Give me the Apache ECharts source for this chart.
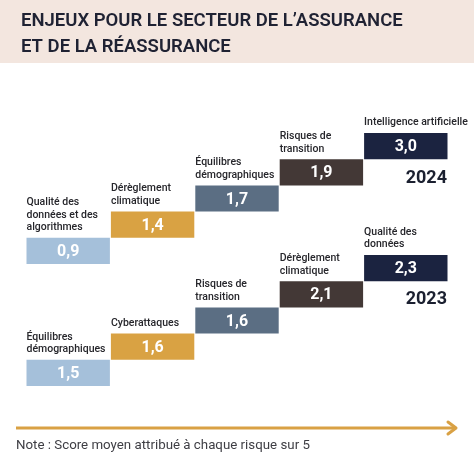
<!DOCTYPE html>
<html>
<head>
<meta charset="utf-8">
<script src="https://cdn.jsdelivr.net/npm/echarts@6/dist/echarts.min.js"></script>
<style>
html,body{margin:0;padding:0;background:#fff;}
#c{width:474px;height:474px;}
</style>
</head>
<body>
<div id="c"></div>
<script>
// ---- data ----
const years = ['2024', '2023'];
const names2024 = ['Qualité des\ndonnées et des\nalgorithmes', 'Dérèglement\nclimatique', 'Équilibres\ndémographiques', 'Risques de\ntransition', 'Intelligence artificielle'];
const values2024 = [0.9, 1.4, 1.7, 1.9, 3.0];
const names2023 = ['Équilibres\ndémographiques', 'Cyberattaques', 'Risques de\ntransition', 'Dérèglement\nclimatique', 'Qualité des\ndonnées'];
const values2023 = [1.5, 1.6, 1.6, 2.1, 2.3];
const steps = [0, 1, 2, 3, 4];
const titleText = 'ENJEUX POUR LE SECTEUR DE L\u2019ASSURANCE\nET DE LA RÉASSURANCE';
const noteText = 'Note : Score moyen attribué à chaque risque sur 5';

const colors = ['#a5c0da', '#d9a243', '#5b6e83', '#433836', '#1b2340'];
const FONT = 'Roboto, "Noto Sans", sans-serif';

function fmt(v){ return v.toFixed(1).replace('.', ','); }

function buildData(names, values){
  return values.map((v, i) => ({ value: [i, steps[i], v], name: names[i] }));
}

function renderItem(params, api){
  const i = api.value(0), s = api.value(1), v = api.value(2);
  const bottom = api.coord([i, s]);
  const top = api.coord([i, s + 1]);
  const bw = api.size([1, 0])[0];
  const x = bottom[0] - bw / 2;
  const y = top[1];
  const h = bottom[1] - top[1];
  const item = params.dataIndex;
  const name = params.seriesIndex === 0 ? names2024[item] : names2023[item];
  return {
    type: 'group',
    children: [
      { type: 'rect', shape: { x: x + 0.5, y: y, width: bw - 1, height: h }, style: { fill: colors[item] } },
      { type: 'text', style: { x: bottom[0], y: y + h / 2 + 1, text: fmt(v), fill: '#ffffff', font: 'bold 16px ' + FONT, textAlign: 'center', textVerticalAlign: 'middle' } },
      { type: 'text', style: { x: x + 0.5, y: y - 4, text: name, fill: '#26262b', font: '500 10.5px ' + FONT, lineHeight: 12.5, textAlign: 'left', textVerticalAlign: 'bottom' } }
    ]
  };
}

const chart = echarts.init(document.getElementById('c'), null, { renderer: 'canvas' });
chart.setOption({
  animation: false,
  backgroundColor: '#ffffff',
  grid: [
    { left: 26, right: 26, top: 133, height: 131 },
    { left: 26, right: 26, top: 255, height: 131 }
  ],
  xAxis: [
    { type: 'category', gridIndex: 0, data: steps, boundaryGap: true, show: false },
    { type: 'category', gridIndex: 1, data: steps, boundaryGap: true, show: false }
  ],
  yAxis: [
    { type: 'value', gridIndex: 0, min: 0, max: 5, show: false },
    { type: 'value', gridIndex: 1, min: 0, max: 5, show: false }
  ],
  series: [
    { type: 'custom', name: years[0], xAxisIndex: 0, yAxisIndex: 0, renderItem: renderItem, data: buildData(names2024, values2024) },
    { type: 'custom', name: years[1], xAxisIndex: 1, yAxisIndex: 1, renderItem: renderItem, data: buildData(names2023, values2023) }
  ],
  graphic: [
    { type: 'rect', left: 0, top: 0, shape: { width: 474, height: 63 }, style: { fill: '#f3e6df' }, z: -1 },
    { type: 'text', left: 21, top: 8, style: { text: titleText, fill: '#1f2233', font: '600 18.5px ' + FONT, lineHeight: 26 } },
    { type: 'text', x: 447, y: 178, style: { text: years[0], fill: '#1b2030', font: 'bold 18px ' + FONT, textAlign: 'right', textVerticalAlign: 'middle' } },
    { type: 'text', x: 447, y: 299, style: { text: years[1], fill: '#1b2030', font: 'bold 18px ' + FONT, textAlign: 'right', textVerticalAlign: 'middle' } },
    { type: 'line', shape: { x1: 16, y1: 428, x2: 455, y2: 428 }, style: { stroke: '#d9a144', lineWidth: 3 } },
    { type: 'polyline', shape: { points: [[448, 422], [456, 428], [448, 434]] }, style: { stroke: '#d9a144', lineWidth: 3, fill: null, lineCap: 'round', lineJoin: 'round' } },
    { type: 'text', x: 16, y: 446, style: { text: noteText, fill: '#3e3e44', font: '13.3px ' + FONT, textVerticalAlign: 'middle' } }
  ]
});
</script>
</body>
</html>
